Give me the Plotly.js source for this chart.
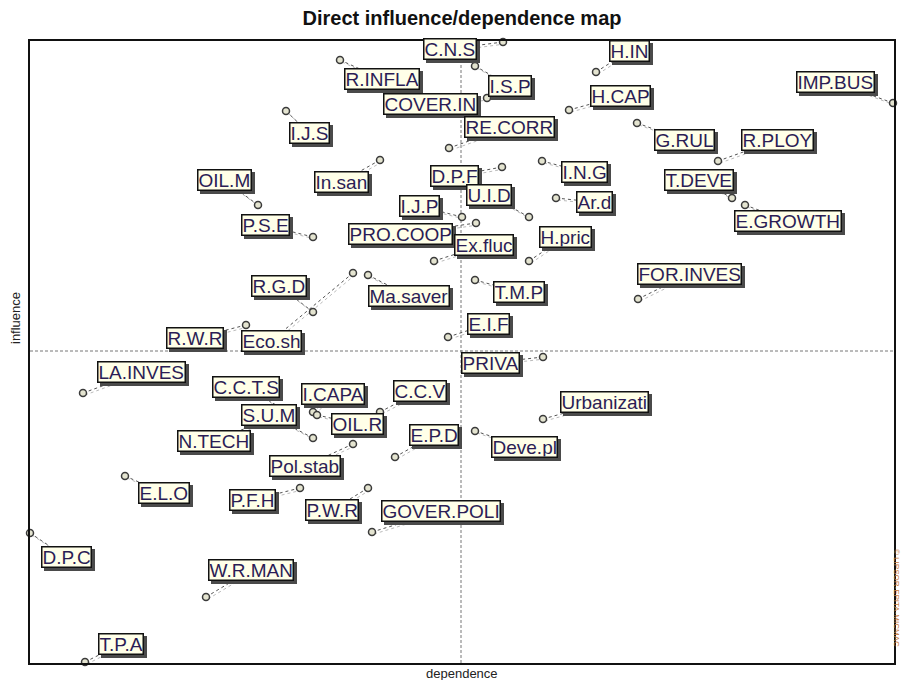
<!DOCTYPE html>
<html><head><meta charset="utf-8">
<script src="https://cdn.plot.ly/plotly-3.0.1.min.js"></script>
<style>
html,body{margin:0;padding:0;background:#fff;}
#chart{width:901px;height:680px;}
#chart .annotation rect.bg{filter:drop-shadow(3px 3px 0px #4a4a4a);}
</style>
</head><body><div id="chart"></div>
<script>
// Variables of the MICMAC direct influence/dependence map
const variables = ["C.N.S","H.IN","R.INFLA","I.S.P","IMP.BUS","COVER.IN","H.CAP","I.J.S","RE.CORR","G.RUL",
  "R.PLOY","I.N.G","D.P.F","In.san","OIL.M","T.DEVE","E.GROWTH","U.I.D","Ar.d","I.J.P",
  "PRO.COOP","Ex.fluc","H.pric","P.S.E","R.G.D","Ma.saver","Eco.sh","R.W.R","FOR.INVES","T.M.P",
  "E.I.F","PRIVA","LA.INVES","C.C.T.S","S.U.M","I.CAPA","OIL.R","C.C.V","N.TECH","E.P.D",
  "Deve.pl","Urbanizati","Pol.stab","E.L.O","P.F.H","P.W.R","GOVER.POLI","D.P.C","W.R.MAN","T.P.A"];
const dependence = [473,566,310,445,863,457,539,256,419,607,
  688,512,472,350,228,702,715,499,526,432,
  446,404,499,283,283,338,323,216,608,445,
  418,513,53,256,283,283,287,350,236,365,
  445,513,323,95,270,338,342,0,176,55];
const influence = [621,591,603,597,560,565,553,552,515,540,
  502,502,496,503,458,465,458,446,465,446,
  440,402,402,426,351,388,390,338,364,383,
  326,306,270,252,225,251,248,251,243,206,
  232,244,219,187,175,175,131,130,66,1];
// label box offsets from the point (pixels, screen direction)
const labelDx = [-53,33,42,35,-58,-57,51,23,60,47,
  59,42,-48,-39,-34,-33,43,-40,38,-43,
  -76,50,36,-48,-34,41,-82,-51,51,44,
  40,-53,58,-40,-44,20,40,40,-52,39,
  49,61,-48,39,-48,-36,69,36,45,36];
const labelDy = [7,-21,19,20,-21,6,-14,22,-21,17,
  -21,11,9,22,-25,-18,16,-22,4,-11,
  11,-16,-24,-12,-26,21,68,13,-25,12,
  -13,6,-21,-24,-23,-18,9,-21,21,-22,
  16,-17,22,17,12,22,-21,24,-27,-18];

const XMAX = 864, YMAX = 622;   // axis extents (1 unit = 1 px of plot area)
const XMID = 431, YMID = 312;   // crossing mean lines

const shapes = [
  {type:'line', xref:'x', yref:'y', x0:XMID, x1:XMID, y0:0, y1:YMAX, layer:'below',
   line:{color:'#777', width:1, dash:'3px,2px'}},
  {type:'line', xref:'x', yref:'y', x0:0, x1:XMAX, y0:YMID, y1:YMID, layer:'below',
   line:{color:'#777', width:1, dash:'3px,2px'}}
];
const annotations = [];
const LABELFONT = 'Arial, "Liberation Sans", sans-serif';
for (let i = 0; i < variables.length; i++) {
  const x = dependence[i], y = influence[i];
  const tx = x + labelDx[i], ty = y - labelDy[i];
  shapes.push({type:'line', xref:'x', yref:'y', x0:x+2, y0:y-2, x1:tx+2, y1:ty-2, layer:'below',
    line:{color:'#bbb', width:1, dash:'dot'}});
  shapes.push({type:'line', xref:'x', yref:'y', x0:x, y0:y, x1:tx, y1:ty, layer:'below',
    line:{color:'#555', width:1, dash:'dot'}});
  annotations.push({x:x, y:y, xref:'x', yref:'y', showarrow:false, text:variables[i],
    xshift:labelDx[i], yshift:-labelDy[i], xanchor:'center', yanchor:'middle',
    height:19,
    font:{family:LABELFONT, size:19, color:'#2b1d55'}, bgcolor:'#FFFFE8',
    bordercolor:'#111', borderwidth:1.5, borderpad:0});
}
annotations.push({xref:'paper', yref:'paper', x:(462-30)/864, y:-(673-663)/622, text:'dependence',
  showarrow:false, xanchor:'center', yanchor:'middle', font:{family:'Arial', size:13, color:'#222'}});
annotations.push({xref:'paper', yref:'paper', x:-(30-15)/864, y:(663-318)/622, text:'influence',
  textangle:-90, showarrow:false, xanchor:'center', yanchor:'middle', font:{family:'Arial', size:13, color:'#222'}});
annotations.push({xref:'paper', yref:'paper', x:(897-30)/864, y:(663-598)/622, text:'© LIPSOR-EPITA-MICMAC',
  textangle:90, showarrow:false, xanchor:'center', yanchor:'middle', font:{family:'Arial', size:8, color:'#c87a3a'}});

const trace = {
  type:'scatter', mode:'markers', x:dependence, y:influence, text:variables, hoverinfo:'text',
  marker:{symbol:'circle', size:7, color:'#e4e4d0', line:{color:'#3a3a3a', width:1.5}},
  cliponaxis:false
};
const layout = {
  width:901, height:680,
  margin:{l:30, r:7, t:41, b:17},
  paper_bgcolor:'#fff', plot_bgcolor:'#fff',
  title:{text:'<b>Direct influence/dependence map</b>', xref:'container', yref:'container',
    x:462/901, y:1-18/680, xanchor:'center', yanchor:'middle',
    font:{family:'Arial', size:20, color:'#111'}},
  xaxis:{range:[0,XMAX], showgrid:false, zeroline:false, showticklabels:false, ticks:'',
    showline:true, mirror:true, linecolor:'#111', linewidth:2, fixedrange:true},
  yaxis:{range:[0,YMAX], showgrid:false, zeroline:false, showticklabels:false, ticks:'',
    showline:true, mirror:true, linecolor:'#111', linewidth:2, fixedrange:true},
  shapes:shapes, annotations:annotations, showlegend:false
};
Plotly.newPlot('chart', [trace], layout, {displayModeBar:false, staticPlot:true});
</script></body></html>
